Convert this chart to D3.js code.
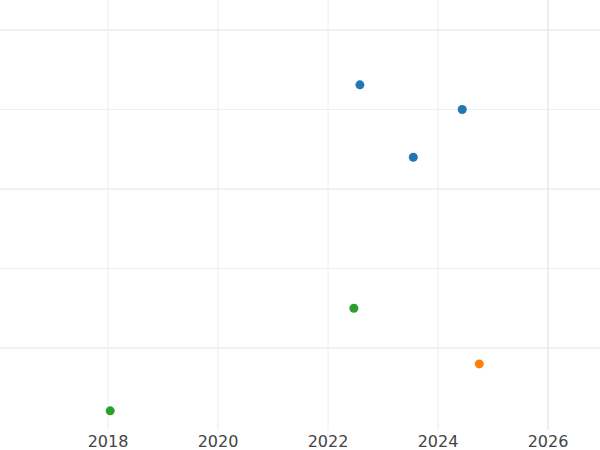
<!DOCTYPE html>
<html>
<head>
<style>body{margin:0;background:#fff;} text{font-family:"DejaVu Sans",sans-serif;}</style>
</head>
<body>
<div id="chart"></div>
<script src="https://d3js.org/d3.v7.min.js"></script>
<script>
const years = [2022.58, 2024.44, 2023.55, 2022.47, 2018.04, 2024.75];
const values = [3.31, 3.0, 2.4, 0.5, -0.79, -0.2];
const groups = ['blue', 'blue', 'blue', 'green', 'green', 'orange'];
const xTicks = [2018, 2020, 2022, 2024, 2026];
const yTicks = [0, 1, 2, 3, 4];

const colors = { blue: '#1f77b4', green: '#2ca02c', orange: '#ff7f0e' };
const width = 600, height = 450;
const svg = d3.select('#chart').append('svg').attr('width', width).attr('height', height);

const x = d3.scaleLinear().domain([2016.036, 2026.945]).range([0, width]);
const y = d3.scaleLinear().domain([-1.031, 4.377]).range([430, 0]);

svg.append('g').selectAll('line').data(yTicks).join('line')
  .attr('x1', 0).attr('x2', width)
  .attr('y1', d => y(d)).attr('y2', d => y(d))
  .attr('stroke', d => d % 2 === 0 ? '#e3e3e3' : '#efefef').attr('stroke-width', 1.2);

svg.append('g').selectAll('line').data(xTicks).join('line')
  .attr('x1', d => x(d)).attr('x2', d => x(d))
  .attr('y1', 0).attr('y2', 430)
  .attr('stroke', d => d === 2026 ? '#e3e3e3' : '#efefef').attr('stroke-width', 1.2);

svg.append('g').selectAll('text').data(xTicks).join('text')
  .attr('x', d => x(d)).attr('y', 447)
  .attr('text-anchor', 'middle').attr('font-size', 16).attr('fill', '#444')
  .text(d => d);

svg.append('g').selectAll('circle').data(years).join('circle')
  .attr('cx', d => x(d)).attr('cy', (d, i) => y(values[i]))
  .attr('r', 4.5).attr('fill', (d, i) => colors[groups[i]]);
</script>
</body>
</html>
